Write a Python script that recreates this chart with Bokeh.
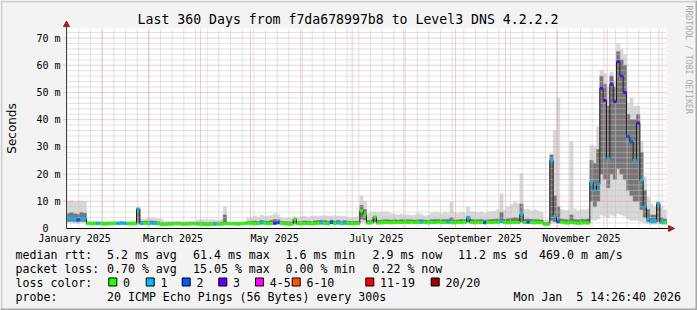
import datetime as dt
import math
from bokeh.plotting import figure
from bokeh.models import Range1d, ColumnDataSource
from bokeh.core.properties import value
from bokeh.embed import file_html
from bokeh.resources import INLINE

# ---------------- data (2-day bins, 360 days ending Mon Jan 5 14:26:40 2026) -------------
START = dt.datetime(2025, 1, 10, 14, 26, 40)
SPAN_DAYS = 360
BIN_DAYS = 2

# median rtt (ms)
med = [
    3.6, 3.8, 3.5, 3.2, 3.8, 3.7, 1.8, 1.7, 1.7, 1.8,
    1.7, 1.6, 1.7, 1.7, 1.8, 1.8, 1.9, 1.8, 1.7, 1.7,
    1.7, 7.2, 1.8, 1.9, 1.8, 1.9, 1.8, 1.7, 1.5, 1.5,
    1.6, 1.6, 1.7, 1.7, 1.6, 1.6, 1.6, 1.7, 1.7, 1.6,
    1.6, 1.5, 1.5, 1.5, 1.6, 1.6, 1.6, 1.7, 1.7, 1.7,
    1.7, 1.6, 1.7, 1.8, 1.9, 1.8, 1.7, 1.8, 2.0, 1.9,
    1.7, 1.8, 1.9, 2.1, 1.8, 1.7, 1.6, 1.6, 3.4, 1.7,
    1.7, 1.8, 1.8, 1.7, 1.8, 1.9, 2.0, 1.8, 1.7, 2.2,
    1.8, 2.0, 1.7, 1.9, 1.8, 1.7, 1.7, 1.8, 6.5, 5.0,
    2.0, 2.1, 4.2, 2.0, 2.1, 2.2, 2.2, 2.1, 2.2, 2.2,
    2.2, 2.3, 2.2, 2.3, 2.2, 2.2, 2.3, 2.2, 2.1, 2.2,
    2.2, 2.3, 2.2, 2.2, 2.3, 2.2, 2.1, 2.2, 2.2, 2.3,
    3.9, 2.2, 2.1, 2.2, 2.2, 2.1, 2.2, 2.2, 2.3, 2.2,
    2.6, 2.2, 2.1, 2.2, 2.2, 2.2, 5.2, 2.2, 2.3, 2.2,
    2.1, 2.2, 2.1, 1.6, 1.6, 25.0, 4.5, 2.5, 2.3, 2.1,
    2.0, 2.2, 2.0, 1.9, 2.0, 2.1, 2.0, 17.0, 14.0, 16.3,
    51.5, 47.0, 25.5, 53.0, 46.6, 61.3, 56.0, 50.0, 33.7, 31.8,
    25.0, 38.8, 17.7, 8.0, 3.6, 2.6, 2.9, 9.1, 2.3, 2.1,
]

# loss colour class index per bin (0 = 0 lost, 1 = 1, 2 = 2, 3 = 3 ...)
loss = [
    1, 1, 1, 2, 1, 1, 0, 0, 0, 1,
    0, 0, 0, 0, 0, 1, 1, 1, 0, 0,
    0, 1, 1, 0, 0, 1, 1, 0, 0, 0,
    0, 0, 0, 0, 0, 0, 0, 0, 0, 0,
    0, 0, 0, 0, 1, 0, 0, 0, 0, 0,
    0, 0, 0, 0, 0, 0, 0, 0, 1, 0,
    0, 0, 3, 2, 0, 0, 0, 0, 0, 0,
    0, 0, 0, 0, 0, 0, 1, 0, 0, 2,
    0, 1, 0, 1, 0, 0, 0, 0, 0, 0,
    0, 0, 0, 0, 0, 0, 0, 0, 0, 0,
    0, 0, 0, 0, 0, 0, 1, 0, 0, 0,
    0, 0, 0, 0, 1, 0, 0, 0, 0, 0,
    1, 0, 0, 0, 0, 2, 0, 0, 0, 0,
    1, 0, 0, 0, 0, 0, 1, 0, 2, 0,
    0, 0, 0, 0, 0, 1, 1, 2, 0, 0,
    0, 0, 0, 0, 0, 0, 0, 1, 1, 1,
    3, 3, 1, 3, 3, 3, 3, 3, 2, 2,
    1, 3, 1, 1, 1, 1, 1, 1, 1, 0,
]

# smoke: full spread (lowest / highest ping)
lo = [
    2.0, 2.1, 2.0, 1.9, 2.0, 2.1, 1.3, 1.3, 1.3, 1.3,
    1.3, 1.2, 1.3, 1.3, 1.3, 1.3, 1.4, 1.3, 1.3, 1.3,
    1.3, 1.4, 1.3, 1.4, 1.3, 1.4, 1.3, 1.3, 1.1, 1.1,
    1.2, 1.2, 1.3, 1.3, 1.2, 1.2, 1.2, 1.3, 1.3, 1.2,
    1.2, 1.1, 1.1, 1.1, 1.2, 1.2, 1.2, 1.3, 1.3, 1.3,
    1.3, 1.2, 1.3, 1.3, 1.4, 1.3, 1.3, 1.3, 1.5, 1.4,
    1.3, 1.3, 1.4, 1.6, 1.3, 1.3, 1.2, 1.2, 1.3, 1.3,
    1.3, 1.3, 1.3, 1.3, 1.3, 1.4, 1.5, 1.3, 1.3, 1.6,
    1.3, 1.5, 1.3, 1.4, 1.3, 1.3, 1.3, 1.3, 2.2, 2.0,
    1.5, 1.6, 1.8, 1.5, 1.6, 1.7, 1.7, 1.6, 1.7, 1.7,
    1.7, 1.8, 1.7, 1.8, 1.7, 1.7, 1.8, 1.7, 1.6, 1.7,
    1.7, 1.8, 1.7, 1.7, 1.8, 1.7, 1.6, 1.7, 1.7, 1.8,
    1.9, 1.7, 1.6, 1.7, 1.7, 1.6, 1.7, 1.7, 1.8, 1.7,
    1.8, 1.7, 1.6, 1.7, 1.7, 1.7, 1.9, 1.7, 1.8, 1.7,
    1.6, 1.7, 1.6, 1.2, 1.2, 2.0, 1.9, 1.8, 1.8, 1.6,
    1.5, 1.7, 1.5, 1.4, 1.5, 1.6, 1.5, 3.5, 3.0, 3.5,
    5.0, 4.5, 4.0, 5.0, 4.5, 5.5, 5.0, 4.5, 3.5, 3.0,
    3.0, 3.0, 2.5, 2.0, 1.7, 1.6, 1.6, 1.7, 1.6, 1.5,
]
hi = [
    10.0, 10.2, 9.8, 10.0, 10.1, 9.9, 2.7, 2.6, 2.8, 2.7,
    2.6, 2.7, 2.6, 2.7, 2.8, 2.6, 2.7, 2.6, 2.6, 2.7,
    2.8, 7.5, 3.6, 3.5, 3.8, 3.7, 3.8, 3.6, 3.4, 2.7,
    2.6, 2.6, 2.7, 2.7, 2.6, 2.6, 2.7, 2.6, 2.7, 3.2,
    3.3, 3.2, 3.1, 3.3, 3.2, 3.1, 3.2, 7.9, 2.4, 2.3,
    2.3, 2.4, 2.3, 2.5, 3.8, 4.2, 4.6, 4.0, 5.0, 4.4,
    4.5, 4.8, 5.4, 5.0, 3.9, 3.8, 4.0, 3.7, 4.3, 3.9,
    4.3, 4.6, 4.2, 4.5, 4.7, 4.4, 4.6, 4.8, 4.5, 4.6,
    4.8, 4.6, 4.4, 4.5, 4.2, 4.0, 4.1, 4.3, 12.0, 10.0,
    5.5, 6.0, 6.2, 5.8, 6.0, 6.1, 5.9, 5.4, 5.2, 5.0,
    5.3, 4.9, 5.1, 4.8, 5.0, 5.4, 5.2, 4.6, 4.8, 5.6,
    6.0, 5.8, 5.4, 6.0, 5.6, 9.7, 5.8, 5.5, 6.0, 5.7,
    7.9, 6.2, 6.0, 5.8, 6.1, 5.6, 5.9, 6.2, 6.4, 7.0,
    12.8, 6.8, 7.9, 8.8, 9.7, 9.2, 20.0, 7.0, 7.2, 6.5,
    6.8, 6.4, 6.0, 3.0, 3.2, 27.5, 36.0, 48.0, 7.0, 6.6,
    6.8, 32.0, 7.2, 6.5, 7.0, 6.8, 7.2, 30.6, 30.0, 37.3,
    58.2, 57.0, 52.0, 57.5, 54.5, 68.0, 66.0, 63.8, 46.0, 48.0,
    45.0, 45.0, 32.0, 19.0, 11.5, 9.0, 8.0, 10.0, 8.0, 7.0,
]
# smoke: denser middle part of the ping distribution
mlo = [
    2.6, 2.7, 2.6, 2.4, 2.7, 2.6, 1.7, 1.6, 1.6, 1.7,
    1.6, 1.5, 1.6, 1.6, 1.7, 1.7, 1.8, 1.7, 1.6, 1.6,
    1.6, 1.9, 1.7, 1.8, 1.7, 1.8, 1.7, 1.6, 1.4, 1.4,
    1.5, 1.5, 1.6, 1.6, 1.5, 1.5, 1.5, 1.6, 1.6, 1.5,
    1.5, 1.4, 1.4, 1.4, 1.5, 1.5, 1.5, 1.6, 1.6, 1.6,
    1.6, 1.5, 1.6, 1.7, 1.8, 1.7, 1.6, 1.7, 1.9, 1.8,
    1.6, 1.7, 1.8, 2.0, 1.7, 1.6, 1.5, 1.5, 1.7, 1.6,
    1.6, 1.7, 1.7, 1.6, 1.7, 1.8, 1.9, 1.7, 1.6, 2.1,
    1.7, 1.9, 1.6, 1.8, 1.7, 1.6, 1.6, 1.7, 3.5, 3.2,
    1.9, 2.0, 2.4, 1.9, 2.0, 2.1, 2.1, 2.0, 2.1, 2.1,
    2.1, 2.2, 2.1, 2.2, 2.1, 2.1, 2.2, 2.1, 2.0, 2.1,
    2.1, 2.2, 2.1, 2.1, 2.2, 2.1, 2.0, 2.1, 2.1, 2.2,
    2.3, 2.1, 2.0, 2.1, 2.1, 2.0, 2.1, 2.1, 2.2, 2.1,
    2.3, 2.1, 2.0, 2.1, 2.1, 2.1, 2.5, 2.1, 2.2, 2.1,
    2.0, 2.1, 2.0, 1.5, 1.5, 3.0, 2.5, 2.2, 2.2, 2.0,
    1.9, 2.1, 1.9, 1.8, 1.9, 2.0, 1.9, 10.0, 8.0, 10.0,
    20.0, 18.0, 15.0, 20.0, 18.0, 22.0, 20.0, 18.0, 14.0, 12.0,
    10.0, 10.0, 7.0, 4.0, 2.5, 2.0, 2.0, 2.5, 1.8, 1.8,
]
mhi = [
    5.5, 5.8, 5.4, 5.2, 5.9, 5.6, 2.4, 2.3, 2.3, 2.4,
    2.3, 2.2, 2.3, 2.3, 2.4, 2.4, 2.5, 2.4, 2.3, 2.3,
    2.3, 7.2, 2.6, 2.7, 2.7, 2.8, 2.7, 2.5, 2.2, 2.1,
    2.2, 2.2, 2.3, 2.3, 2.2, 2.2, 2.2, 2.3, 2.3, 2.3,
    2.3, 2.2, 2.2, 2.2, 2.3, 2.3, 2.3, 5.0, 2.2, 2.2,
    2.2, 2.1, 2.2, 2.3, 2.6, 2.7, 2.8, 2.6, 3.0, 2.8,
    2.7, 2.9, 3.3, 3.2, 2.6, 2.5, 2.5, 2.4, 3.6, 2.5,
    2.6, 2.8, 2.7, 2.6, 2.8, 2.9, 3.0, 2.9, 2.7, 3.1,
    2.8, 3.0, 2.7, 2.9, 2.7, 2.6, 2.6, 2.7, 8.5, 7.0,
    2.9, 3.1, 4.5, 3.0, 3.1, 3.2, 3.2, 3.1, 3.2, 3.1,
    3.2, 3.2, 3.2, 3.2, 3.1, 3.2, 3.3, 3.1, 3.0, 3.2,
    3.3, 3.3, 3.2, 3.3, 3.3, 4.0, 3.1, 3.2, 3.3, 3.3,
    4.5, 3.3, 3.2, 3.2, 3.3, 3.1, 3.2, 3.3, 3.4, 3.5,
    6.0, 3.4, 3.6, 3.8, 4.0, 3.8, 9.0, 3.4, 3.5, 3.3,
    3.3, 3.2, 3.1, 2.2, 2.2, 27.0, 12.0, 8.0, 3.5, 3.3,
    3.2, 5.0, 3.3, 3.2, 3.4, 3.3, 3.5, 25.0, 24.0, 29.0,
    56.0, 53.0, 45.0, 56.0, 52.0, 65.0, 62.0, 60.0, 42.0, 40.0,
    40.0, 42.0, 28.0, 14.0, 7.0, 5.0, 5.0, 9.5, 4.0, 3.5,
]

loss_colors = ["#26ff00", "#00b8ff", "#0059ff", "#5e00ff",
               "#ff00ff", "#ff5500", "#ff0000", "#a10000"]
loss_labels = ["0", "1", "2", "3", "4-5", "6-10", "11-19", "20/20"]

month_labels = ["January 2025", "March 2025", "May 2025",
                "July 2025", "September 2025", "November 2025"]
month_label_dates = [dt.datetime(2025, m, 15, 12) for m in (1, 3, 5, 7, 9, 11)]
y_ticks = [0, 10, 20, 30, 40, 50, 60, 70]
y_tick_labels = ["0\u00a0\u00a0", "10 m", "20 m", "30 m", "40 m", "50 m", "60 m", "70 m"]
y_title = "Seconds"

title_text = "Last 360 Days from f7da678997b8 to Level3 DNS 4.2.2.2"
stats_rtt = ["median rtt:", "5.2 ms avg", "61.4 ms max", "1.6 ms min",
             "2.9 ms now", "11.2 ms sd", "469.0 m am/s"]
stats_loss = ["packet loss:", "0.70 % avg", "15.05 % max", "0.00 % min", "0.22 % now"]
probe_text = ["probe:", "20 ICMP Echo Pings (56 Bytes) every 300s"]
stamp_text = "Mon Jan\u00a0 5 14:26:40 2026"
watermark = "RRDTOOL / TOBI OETIKER"

# ---------------- layout -----------------------------------------------------------------
W, H = 697, 310
FL, FR, FT, FB = 66, 666, 28, 228
YMAX = 73.5
MONO = "DejaVu Sans Mono"


def dx(px):
    return (px - FL) / (FR - FL) * SPAN_DAYS


def dy(py):
    return (FB - py) / (FB - FT) * YMAX


def days(d):
    return (d - START).total_seconds() / 86400.0


# the frame spans the whole canvas; the graph area is the white box inside it
p = figure(width=W, height=H, x_range=Range1d(dx(0), dx(W)), y_range=Range1d(dy(H), dy(0)),
           output_backend="svg", toolbar_location=None, min_border=0,
           x_axis_type=None, y_axis_type=None, title=None,
           background_fill_color="#f3f3f3", border_fill_color="#f3f3f3",
           outline_line_color=None)
p.grid.visible = False

# 3D frame around the image
p.quad(left=[dx(0), dx(0)], right=[dx(W), dx(2)], top=[dy(0), dy(0)], bottom=[dy(2), dy(H)],
       fill_color="#d0d0d0", line_color=None)
p.quad(left=[dx(0), dx(W - 2)], right=[dx(W), dx(W)], top=[dy(H - 2), dy(0)],
       bottom=[dy(H), dy(H)], fill_color="#a9a9a9", line_color=None)

# canvas (white graph area)
p.quad(left=[0], right=[SPAN_DAYS], bottom=[0], top=[YMAX], fill_color="white",
       line_color=None)

# smoke
n = len(med)
left = [i * BIN_DAYS for i in range(n)]
right = [(i + 1) * BIN_DAYS for i in range(n)]
src = ColumnDataSource(dict(left=left, right=right, lo=lo, hi=hi, mlo=mlo, mhi=mhi,
                            med=med, color=[loss_colors[k] for k in loss]))
p.quad(left="left", right="right", bottom="lo", top="hi", source=src,
       fill_color="#d8d8d8", line_color="#d8d8d8", line_width=0.5)
p.quad(left="left", right="right", bottom="mlo", top="mhi", source=src,
       fill_color="#767676", line_color="#767676", line_width=0.5)

# grid
minor_x = []
d = days(dt.datetime(2025, 1, 11))
while d < SPAN_DAYS:
    minor_x.append(d)
    d += 7
major_x = [days(dt.datetime(2025 + (m // 12), m % 12 + 1, 1)) for m in range(1, 13)]
minor_y = [v for v in range(2, 74, 2) if v % 10]
major_y = [10, 20, 30, 40, 50, 60, 70]
gcol, mcol = "#c4c4c4", "#e79a9a"
p.segment(x0=minor_x, x1=minor_x, y0=0, y1=YMAX, line_color=gcol, line_dash="1 1")
p.segment(x0=0, x1=SPAN_DAYS, y0=minor_y, y1=minor_y, line_color=gcol, line_dash="1 1")
p.segment(x0=major_x, x1=major_x, y0=0, y1=YMAX, line_color=mcol, line_dash="1 1")
p.segment(x0=dx(63), x1=SPAN_DAYS, y0=major_y, y1=major_y, line_color=mcol, line_dash="1 1")

# median: thin dark step line + loss-coloured segments
sx, sy = [], []
for i in range(n):
    sx += [left[i], right[i]]
    sy += [med[i], med[i]]
p.line(sx, sy, line_color="#1e1e1e", line_width=1)
p.segment(x0="left", x1="right", y0="med", y1="med", line_color="color",
          line_width=3, source=src)

# axis lines with arrow heads
arrow_c = "#a32020"
p.segment(x0=[0], x1=[dx(669)], y0=[0], y1=[0], line_color="#000000", line_width=1)
p.segment(x0=[0], x1=[0], y0=[0], y1=[dy(25)], line_color="#404040", line_width=1)
p.patch([dx(668), dx(674), dx(668)], [dy(225), dy(228), dy(231)],
        fill_color=arrow_c, line_color=arrow_c)
p.patch([dx(63), dx(66), dx(69)], [dy(26), dy(20.5), dy(26)],
        fill_color=arrow_c, line_color=arrow_c)


def add_text(txt, xs, ys, align="left", color="#000000", size="11.6px", angle=0.0,
             font=MONO):
    if isinstance(txt, str):
        txt, xs, ys = [txt], [xs], [ys]
    p.text(x=xs, y=ys, text=txt, text_align=align, text_baseline="middle",
           text_font=value(font), text_font_size=value(size), text_color=color,
           angle=angle)


# axis labels
tick_pos = [days(d) for d in month_label_dates]
add_text(month_labels, tick_pos, [dy(237.5)] * len(tick_pos), align="center", size="10px")
add_text(y_tick_labels, [dx(60)] * len(y_ticks), y_ticks, align="right", size="10px")
add_text(y_title, dx(11), YMAX / 2, align="center", size="12px", angle=math.pi / 2,
         font="DejaVu Sans")

# title
add_text(title_text, dx(347.5), dy(18.5), align="center", size="13.2px")

# legend
row_y = [254, 268, 282, 296]
add_text(stats_rtt, [dx(v) for v in [15, 106.5, 192.5, 285, 372, 457.5, 538.5]],
         [dy(row_y[0])] * len(stats_rtt))
add_text(stats_loss, [dx(v) for v in [15, 106.5, 192.5, 285, 372]],
         [dy(row_y[1])] * len(stats_loss))
add_text("loss color:", dx(15), dy(row_y[2]))
box_x = [108.3, 145.7, 181.7, 218.3, 255.0, 291.7, 365.3, 430.7]
p.quad(left=[dx(b) for b in box_x], right=[dx(b + 8) for b in box_x],
       top=[dy(277.5)] * len(box_x), bottom=[dy(285.5)] * len(box_x),
       fill_color=loss_colors, line_color="#000000", line_width=1)
add_text(loss_labels, [dx(b + 14.2) for b in box_x], [dy(row_y[2])] * len(box_x))
add_text(probe_text, [dx(15), dx(106.5)], [dy(row_y[3])] * 2)
add_text(stamp_text, dx(680.5), dy(row_y[3]), align="right")

# watermark
add_text(watermark, dx(688), dy(5), color="#a8a8a8", size="8.2px", angle=-math.pi / 2)

open("out.html", "w").write(file_html(p, INLINE))
